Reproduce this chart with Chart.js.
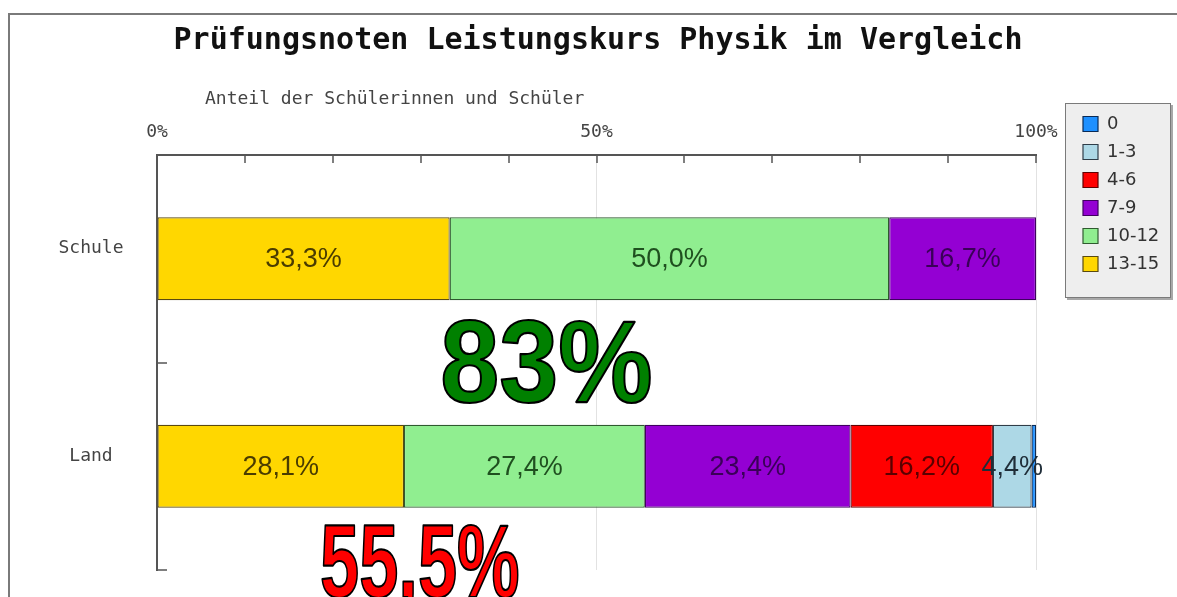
<!DOCTYPE html>
<html><head><meta charset="utf-8">
<script src="https://cdn.jsdelivr.net/npm/chart.js@4.4.1/dist/chart.umd.min.js"></script>
<style>html,body{margin:0;padding:0;background:#fff;overflow:hidden}canvas{display:block}</style>
</head><body>
<canvas id="c" width="1177" height="597"></canvas>
<script>
// ---- data ----
const categories = ['Schule', 'Land'];
const gradeLabels = ['13-15', '10-12', '7-9', '4-6', '1-3', '0'];
const grade1315 = [33.3, 28.1];
const grade1012 = [50.0, 27.4];
const grade79 = [16.7, 23.4];
const grade46 = [0, 16.2];
const grade13 = [0, 4.4];
const grade0 = [0, 0.5];
const xTickLabels = ['0%', '50%', '100%'];
const titleText = 'Prüfungsnoten Leistungskurs Physik im Vergleich';
const axisTitleText = 'Anteil der Schülerinnen und Schüler';
const highlightTexts = ['83%', '55,5%'];

// ---- styles ----
const seriesValues = [grade1315, grade1012, grade79, grade46, grade13, grade0];
const fills = ['#ffd700', '#90ee90', '#9400d3', '#ff0000', '#add8e6', '#1e90ff'];
const borders = ['#5a4a10', '#2f5a2f', '#3f0060', '#600000', '#2f3d48', '#0a2a55'];
const labelColors = ['#4a3c00', '#1f4f1f', '#3a0058', '#5a0000', '#1f2d38', '#0a2a50'];
const MONO = '"DejaVu Sans Mono", monospace';
const LEG_FONT = { family: 'DejaVu Sans', size: 18 };

// legend width estimate so the plot ends at the 100% position
const mctx = document.createElement('canvas').getContext('2d');
mctx.font = '18px "DejaVu Sans"';
let tw = 0;
gradeLabels.forEach(g => { tw = Math.max(tw, mctx.measureText(g).width); });
const legendW = 10 + 15 + 9 + tw + 10;
const padRight = Math.max(0, 1177 - 1036 - legendW);

function drawOutlined(ctx, text, fontPx, fill, left, baseline, targetW) {
  ctx.save();
  ctx.font = 'bold ' + fontPx + 'px "Liberation Sans", Arial, sans-serif';
  const m = ctx.measureText(text);
  const ink = m.actualBoundingBoxLeft + m.actualBoundingBoxRight;
  const sx = targetW / ink;
  ctx.translate(left, baseline);
  ctx.scale(sx, 1);
  ctx.textAlign = 'left';
  ctx.textBaseline = 'alphabetic';
  const x0 = m.actualBoundingBoxLeft;
  ctx.lineJoin = 'round';
  ctx.fillStyle = fill;
  ctx.fillText(text, x0, 0);
  ctx.lineWidth = 2.2;
  ctx.strokeStyle = '#000';
  ctx.strokeText(text, x0, 0);
  ctx.restore();
}

const decor = {
  id: 'decor',
  afterLayout(chart) {
    const L = chart.legend;
    const w = L.width;
    L.left = chart.chartArea.right + 37;
    L.right = L.left + w;
  },
  beforeDraw(chart) {
    const ctx = chart.ctx;
    ctx.save();
    ctx.fillStyle = '#fff';
    ctx.fillRect(0, 0, chart.width, chart.height);
    ctx.strokeStyle = '#7a7a7a';
    ctx.lineWidth = 2;
    ctx.beginPath();
    ctx.moveTo(9, chart.height);
    ctx.lineTo(9, 14);
    ctx.lineTo(chart.width, 14);
    ctx.stroke();
    const L = chart.legend;
    const bx = L.left - 8, by = L.top - 2, bw = 106, bh = 195;
    ctx.fillStyle = '#a8a8a8';
    ctx.fillRect(bx + 2, by + 2, bw, bh);
    ctx.fillStyle = '#eeeeee';
    ctx.fillRect(bx, by, bw, bh);
    ctx.strokeStyle = '#7a7a7a';
    ctx.lineWidth = 1;
    ctx.strokeRect(bx + 0.5, by + 0.5, bw - 1, bh - 1);
    ctx.fillStyle = '#111';
    ctx.font = 'bold 30px ' + MONO;
    ctx.textAlign = 'center';
    ctx.textBaseline = 'middle';
    ctx.fillText(titleText, 598, 41);
    ctx.fillStyle = '#444';
    ctx.font = '18px ' + MONO;
    ctx.textAlign = 'left';
    ctx.fillText(axisTitleText, chart.chartArea.left + 48, 99);
    ctx.restore();
  },
  afterDatasetsDraw(chart) {
    const ctx = chart.ctx;
    const ca = chart.chartArea;
    const xs = chart.scales.x, ys = chart.scales.y;
    ctx.save();
    // value labels
    ctx.font = '27px "Liberation Sans", Arial, sans-serif';
    ctx.textAlign = 'center';
    ctx.textBaseline = 'middle';
    chart.data.datasets.forEach((ds, di) => {
      const meta = chart.getDatasetMeta(di);
      meta.data.forEach((bar, i) => {
        const v = ds.data[i];
        if (!v || v < 2) return;
        ctx.fillStyle = labelColors[di];
        ctx.fillText(v.toFixed(1).replace('.', ',') + '%', (bar.x + bar.base) / 2, bar.y + 1);
      });
    });
    // inward tick marks
    ctx.strokeStyle = '#555';
    ctx.lineWidth = 1.5;
    ctx.beginPath();
    xs.ticks.forEach(t => {
      const px = Math.round(xs.getPixelForValue(t.value));
      ctx.moveTo(px, ca.top);
      ctx.lineTo(px, ca.top + 8);
    });
    for (let i = 0; i < categories.length; i++) {
      const py = Math.round(ys.getPixelForValue(i + 0.5));
      ctx.moveTo(ca.left, py);
      ctx.lineTo(ca.left + 10, py);
    }
    ctx.stroke();
    // category labels
    ctx.fillStyle = '#444';
    ctx.font = '18px ' + MONO;
    ctx.textAlign = 'center';
    categories.forEach((c, i) => {
      ctx.fillText(c, ca.left - 66, ys.getPixelForValue(i) - 10);
    });
    ctx.restore();
  },
  afterDraw(chart) {
    const ctx = chart.ctx;
    drawOutlined(ctx, highlightTexts[0], 117, '#008000', 443, 402, 207);
    drawOutlined(ctx, highlightTexts[1], 104, '#ff0000', 322, 597, 196);
  }
};

new Chart(document.getElementById('c'), {
  type: 'bar',
  data: {
    labels: categories,
    datasets: gradeLabels.map((g, i) => ({
      label: g,
      data: seriesValues[i],
      backgroundColor: fills[i],
      borderColor: borders[i],
      borderWidth: 1.2,
      borderSkipped: false,
      barPercentage: 0.4,
      categoryPercentage: 1.0
    }))
  },
  options: {
    indexAxis: 'y',
    responsive: false,
    animation: false,
    devicePixelRatio: 1,
    layout: { padding: { left: 157, top: 105, bottom: 27, right: padRight } },
    plugins: {
      title: { display: false },
      tooltip: { enabled: false },
      legend: {
        position: 'right',
        align: 'start',
        reverse: true,
        labels: { boxWidth: 15, boxHeight: 15, padding: 10, color: '#333', font: LEG_FONT }
      }
    },
    scales: {
      x: {
        type: 'linear',
        position: 'top',
        stacked: true,
        min: 0,
        max: 100,
        afterFit: (s) => { s.height = 50; },
        ticks: {
          stepSize: 10,
          padding: 12,
          color: '#444',
          maxRotation: 0,
          autoSkip: false,
          font: { family: 'DejaVu Sans Mono', size: 18 },
          callback: (v) => { const s = v + '%'; return xTickLabels.includes(s) ? s : ''; }
        },
        grid: {
          drawTicks: false,
          lineWidth: 1,
          color: (c) => (c.tick && (c.tick.value === 50 || c.tick.value === 100)) ? '#e2e2e2' : 'rgba(0,0,0,0)'
        },
        border: { display: true, color: '#555', width: 2 }
      },
      y: {
        stacked: true,
        afterFit: (s) => { s.width = 0; },
        ticks: { display: false },
        grid: { display: false, drawTicks: false },
        border: { display: true, color: '#555', width: 2 }
      }
    }
  },
  plugins: [decor]
});
</script>
</body></html>
